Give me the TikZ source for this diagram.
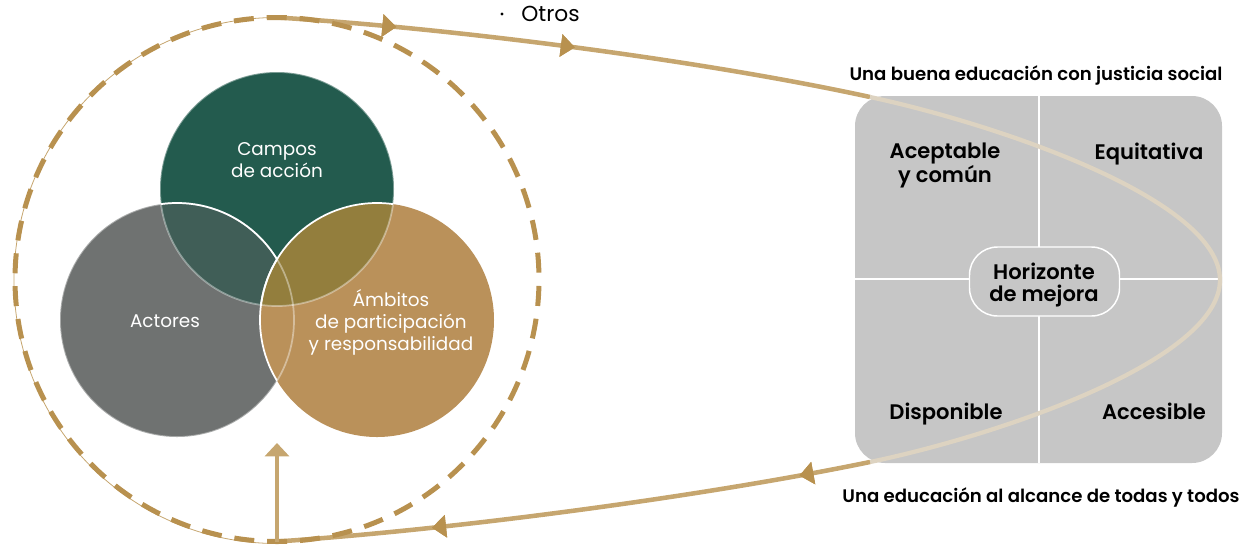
\documentclass[tikz,border=0pt]{standalone}
\usepackage{fontspec}
\setmainfont{Poppins}[BoldFont={Poppins SemiBold}]
\usetikzlibrary{decorations.markings,arrows.meta}
\definecolor{vgreen}{HTML}{235B4E}
\definecolor{vgray}{HTML}{6F7271}
\definecolor{vtan}{HTML}{BA915A}
\definecolor{ga}{HTML}{405E57}
\definecolor{gt}{HTML}{937E3D}
\definecolor{boxgray}{HTML}{C6C6C6}
\definecolor{linetan}{HTML}{C6A66F}
\definecolor{headtan}{HTML}{B8914F}
\definecolor{innerline}{HTML}{DDD3C1}
\begin{document}
\begin{tikzpicture}[x=0.75pt,y=0.75pt,yscale=-1,
  venntext/.style={text=white, font=\fontsize{13.8}{16.5}\selectfont, align=center, inner sep=0pt},
  quadtext/.style={font=\bfseries\fontsize{15.8}{17}\selectfont, align=center, text=black, inner sep=0pt},
  titletext/.style={font=\bfseries\fontsize{13.6}{16}\selectfont, text=black, inner sep=0pt},
  loopline/.style={draw=linetan, line width=3.4pt},
  tipmark/.style={postaction={decorate}, decoration={markings,
     mark=at position #1 with {\arrow[headtan]{Triangle[length=10.5pt,width=16.5pt]}}}},
  dashcircle/.style={draw=headtan, line width=3.75pt, dash pattern=on 15pt off 9.69pt, dash phase=19.84pt},
  ]
\path[use as bounding box] (0,0) rectangle (1243,544);

% key coordinates
\coordinate (ctr) at (277,279.5);
\coordinate (topc) at (277,17.5);
\coordinate (botc) at (277,541.5);
\coordinate (bx1) at (870,97);
\coordinate (bxr) at (1220,280);
\coordinate (bx2) at (870,462);
\coordinate (arrtop) at (277,443);

% box with quadrants
\fill[boxgray, rounded corners=22.5pt] (855,96) rectangle (1222,463);
\draw[white, line width=1.1pt] (1039,96) -- (1039,463);
\draw[white, line width=1.1pt] (855,279) -- (1222,279);

% loop
\draw[draw=linetan, line width=0.6pt] (topc) arc[start angle=270, end angle=90, radius=263];
\draw[loopline, tipmark=0.2, tipmark=0.5] (topc) .. controls (450,28) and (700,60) .. (bx1);
\draw[draw=innerline, line width=3.2pt] (bx1) .. controls (1000,125) and (1220,200) .. (bxr)
   .. controls (1220,360) and (1000,435) .. (bx2);
\draw[loopline, tipmark=0.12, tipmark=0.74] (bx2) .. controls (700,497) and (450,530) .. (botc);

% dashed circle
\draw[dashcircle] (ctr) circle[radius=262];

% vertical arrow
\draw[draw=linetan, line width=3pt, -{Triangle[length=10pt,width=18pt,color=linetan]}] (botc) -- (arrtop);

% centre node
\node[draw=white, fill=boxgray, line width=1.1pt, rounded corners=21pt, minimum width=112.5pt, minimum height=51.75pt] (hor) at (1044.5,281.5) {};
\node[quadtext] (hortext) at (1044,285) {Horizonte\\de mejora};

% quadrant texts
\node[quadtext] (acep) at (945,165) {Aceptable\\y común};
\node[quadtext, anchor=base] (equi) at (1149,159) {Equitativa};
\node[quadtext, anchor=base] (disp) at (946,419) {Disponible};
\node[quadtext, anchor=base] (acce) at (1154,419) {Accesible};

% titles
\node[titletext, anchor=base] (t1) at (1036,80) {Una buena educación con justicia social};
\node[titletext, anchor=base] (t2) at (1041,502) {Una educación al alcance de todas y todos};

% Otros
\fill[black] (502,14) circle[radius=1.6];
\node[anchor=base west, inner sep=0pt, font=\fontsize{16.3}{18}\selectfont] (otros) at (521,21) {Otros};

% Venn circles
\coordinate (G) at (277,189);
\coordinate (A) at (177,320);
\coordinate (T) at (377,320);
\fill[vgray] (A) circle[radius=117];
\fill[vgreen] (G) circle[radius=117];
\begin{scope}
  \clip (G) circle[radius=117];
  \fill[ga] (A) circle[radius=117];
  \draw[white, line width=1.3pt] (A) circle[radius=117];
\end{scope}
\fill[vtan] (T) circle[radius=117];
\begin{scope}
  \clip (G) circle[radius=117];
  \fill[gt] (T) circle[radius=117];
\end{scope}
\draw[white, opacity=0.4, line width=1.3pt] (G) circle[radius=117];
\draw[white, opacity=0.4, line width=1.3pt] (A) circle[radius=117];
\begin{scope}
  \clip (G) circle[radius=117];
  \draw[white, line width=1.3pt] (T) circle[radius=117];
\end{scope}
\begin{scope}
  \clip (A) circle[radius=117];
  \draw[white, line width=1.3pt] (T) circle[radius=117];
\end{scope}

\node[venntext] (campos) at (277,160) {Campos\\de acción};
\node[venntext] (actores) at (165,321) {Actores};
\node[venntext] (ambitos) at (391,322) {Ámbitos\\de participación\\y responsabilidad};
\end{tikzpicture}
\end{document}
